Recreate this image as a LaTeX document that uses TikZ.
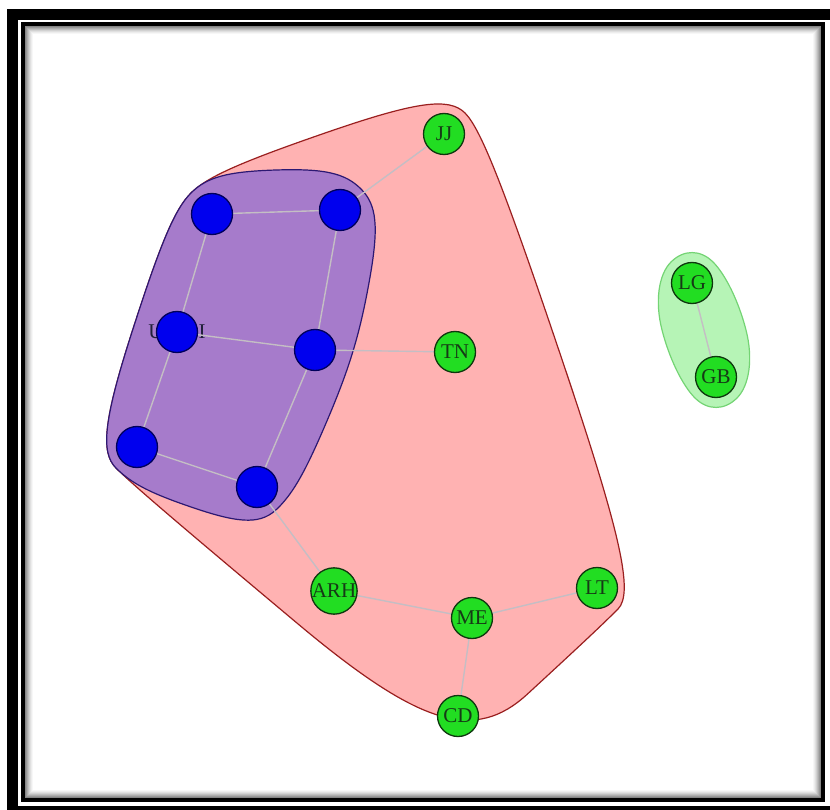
\documentclass[tikz,border=0pt]{standalone}
\usepackage{fontspec}
\setmainfont{Liberation Serif}
\usetikzlibrary{calc}
\definecolor{pinkfill}{HTML}{FFB2B2}
\definecolor{pinkline}{HTML}{9A1F1F}
\definecolor{violetfill}{HTML}{A67BCB}
\definecolor{violetline}{HTML}{2C1873}
\definecolor{greenfill}{HTML}{B6F4B6}
\definecolor{greenline}{HTML}{74D474}
\definecolor{vblue}{HTML}{0000EE}
\definecolor{vblueline}{HTML}{00005A}
\definecolor{vgreen}{HTML}{22DD22}
\definecolor{vgreenline}{HTML}{0E360E}
\definecolor{edgegray}{HTML}{C4BEC4}
\definecolor{labelink}{HTML}{163A16}
\definecolor{hiddenink}{HTML}{20203A}
\pgfdeclarelayer{backdrop}
\pgfdeclarelayer{hulls}
\pgfdeclarelayer{links}
\pgfsetlayers{backdrop,hulls,links,main}
\newcommand{\hd}{42}

\begin{document}
\begin{tikzpicture}[
 x=1pt,y=-1pt,font=\fontsize{21}{23}\selectfont,
 vert/.style={circle,minimum size=41pt,inner sep=0pt,line width=1.3pt},
 bluev/.style={vert,fill=vblue,draw=vblueline},
 greenv/.style={vert,fill=vgreen,draw=vgreenline,text=labelink},
 link/.style={draw=edgegray,line width=1.4pt},
 hull/.style={line width=1.2pt,line join=round}
]
\useasboundingbox (0,0) rectangle (830,810);

% Frame.
\begin{pgfonlayer}{backdrop}
\fill[white] (0,0) rectangle (830,810);
\fill[black] (7,9) rectangle (830,810);
\fill[white] (18,20) rectangle (830,806);
\draw[black,line width=4pt] (23,24) rectangle (823,800);
\foreach \i/\s in {1/48,2/40,3/32,4/25,5/18,6/12,7/7,8/3}
  \draw[black!\s,line width=1pt] (24.5+\i,25.5+\i) rectangle (821.5-\i,798.5-\i);
\end{pgfonlayer}

% Blue group.
\node[bluev] (tl) at (212,214) {};
\node[bluev] (tr) at (340,210) {};
\node[bluev] (ml) at (177,332) {};
\node[bluev] (mr) at (315,350) {};
\node[bluev] (bl) at (137,447) {};
\node[bluev] (br) at (257,487) {};

% Green vertices.
\node[greenv] (jj) at (444,134) {JJ};
\node[greenv] (tn) at (455,352) {TN};
\node[greenv] (arh) at (334,591) {ARH};
\node[greenv] (me) at (472,618) {ME};
\node[greenv] (lt) at (597,588) {LT};
\node[greenv] (cd) at (458,716) {CD};
\node[greenv] (lg) at (692,283) {LG};
\node[greenv] (gb) at (716,377) {GB};

% Edges.
\begin{pgfonlayer}{links}
\node[text=hiddenink] (mllabel) at (ml) {U\hspace{35pt}I};
\draw[link] (tl)--(tr) (tl)--(ml) (tr)--(mr) (ml)--(mr) (ml)--(bl) (bl)--(br) (mr)--(br);
\draw[link] (tr)--(jj) (mr)--(tn) (br)--(arh) (arh)--(me) (me)--(lt) (me)--(cd);
\draw[link] (lg)--(gb);
\end{pgfonlayer}

% Group hulls: hull of the expanded vertices, corners smoothed.
\begin{pgfonlayer}{hulls}
\coordinate (pk1) at ($(jj)+(0,-\hd)$);
\coordinate (pk2) at ($(jj)+(\hd,0)$);
\coordinate (pk3) at ($(lt)+(\hd,0)$);
\coordinate (pk4) at ($(lt)+(0,\hd)$);
\coordinate (pk5) at ($(cd)+(0,\hd)$);
\coordinate (pk6) at ($(bl)+(0,\hd)$);
\coordinate (pk7) at ($(bl)+(-\hd,0)$);
\coordinate (pk8) at ($(tl)+(-\hd,0)$);
\coordinate (pk9) at ($(tl)+(0,-\hd)$);
\draw[hull,draw=pinkline,fill=pinkfill] ($(pk9)!.5!(pk1)$)
  \foreach \a/\b/\c in {pk9/pk1/pk2,pk1/pk2/pk3,pk2/pk3/pk4,pk3/pk4/pk5,pk4/pk5/pk6,pk5/pk6/pk7,pk6/pk7/pk8,pk7/pk8/pk9,pk8/pk9/pk1}
  { .. controls ($(\a)!.88!(\b)$) and ($(\b)!.12!(\c)$) .. ($(\b)!.5!(\c)$) } -- cycle;

\coordinate (vi1) at ($(tr)+(0,-\hd)$);
\coordinate (vi2) at ($(tr)+(\hd,0)$);
\coordinate (vi3) at ($(mr)+(\hd,0)$);
\coordinate (vi4) at ($(br)+(\hd,0)$);
\coordinate (vi5) at ($(br)+(0,\hd)$);
\coordinate (vi6) at ($(bl)+(0,\hd)$);
\coordinate (vi7) at ($(bl)+(-\hd,0)$);
\coordinate (vi8) at ($(tl)+(-\hd,0)$);
\coordinate (vi9) at ($(tl)+(0,-\hd)$);
\draw[hull,draw=violetline,fill=violetfill] ($(vi9)!.5!(vi1)$)
  \foreach \a/\b/\c in {vi9/vi1/vi2,vi1/vi2/vi3,vi2/vi3/vi4,vi3/vi4/vi5,vi4/vi5/vi6,vi5/vi6/vi7,vi6/vi7/vi8,vi7/vi8/vi9,vi8/vi9/vi1}
  { .. controls ($(\a)!.88!(\b)$) and ($(\b)!.12!(\c)$) .. ($(\b)!.5!(\c)$) } -- cycle;

\coordinate (gr1) at ($(lg)+(0,-\hd)$);
\coordinate (gr2) at ($(lg)+(\hd,0)$);
\coordinate (gr3) at ($(gb)+(\hd,0)$);
\coordinate (gr4) at ($(gb)+(0,\hd)$);
\coordinate (gr5) at ($(gb)+(-\hd,0)$);
\coordinate (gr6) at ($(lg)+(-\hd,0)$);
\draw[hull,draw=greenline,fill=greenfill] ($(gr6)!.5!(gr1)$)
  \foreach \a/\b/\c in {gr6/gr1/gr2,gr1/gr2/gr3,gr2/gr3/gr4,gr3/gr4/gr5,gr4/gr5/gr6,gr5/gr6/gr1}
  { .. controls ($(\a)!.8!(\b)$) and ($(\b)!.2!(\c)$) .. ($(\b)!.5!(\c)$) } -- cycle;
\end{pgfonlayer}
\end{tikzpicture}
\end{document}
